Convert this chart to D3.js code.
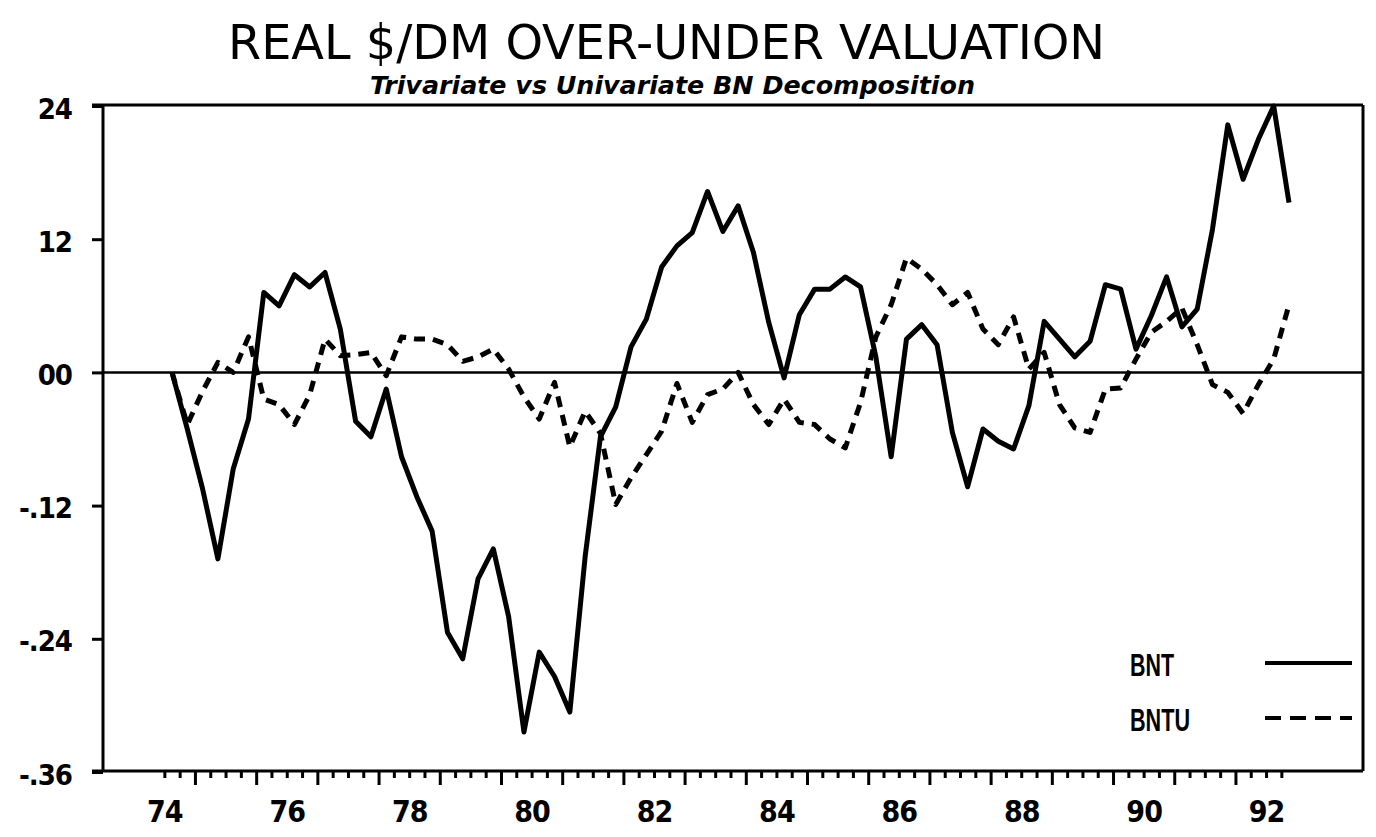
<!DOCTYPE html>
<html>
<head>
<meta charset="utf-8">
<script src="https://cdn.jsdelivr.net/npm/d3@7/dist/d3.min.js"></script>
<style>
    body { margin: 0; background: #fff; }
    svg { display: block; }
</style>
</head>
<body>
<div id="chart"></div>
<script>
// quarterly, 1974Q1 .. 1992Q2
var yearLabels = ["74", "76", "78", "80", "82", "84", "86", "88", "90", "92"];

var bnt = [
    0.000, -0.051, -0.105, -0.168, -0.087, -0.042, 0.072, 0.060,
    0.088, 0.077, 0.090, 0.039, -0.044, -0.058, -0.015, -0.076,
    -0.112, -0.143, -0.234, -0.258, -0.186, -0.159, -0.220, -0.324,
    -0.252, -0.274, -0.306, -0.166, -0.058, -0.031, 0.023, 0.048,
    0.095, 0.114, 0.126, 0.163, 0.127, 0.150, 0.108, 0.045,
    -0.005, 0.052, 0.075, 0.075, 0.086, 0.077, 0.014, -0.076,
    0.030, 0.043, 0.025, -0.054, -0.103, -0.051, -0.062, -0.069,
    -0.030, 0.046, 0.030, 0.014, 0.028, 0.079, 0.075, 0.021,
    0.051, 0.086, 0.041, 0.057, 0.129, 0.223, 0.174, 0.210,
    0.240, 0.153
];

var bntu = [
    0.000, -0.047, -0.017, 0.009, 0.000, 0.032, -0.024, -0.029,
    -0.047, -0.020, 0.030, 0.015, 0.016, 0.018, -0.003, 0.032,
    0.030, 0.030, 0.025, 0.010, 0.014, 0.021, 0.003, -0.022,
    -0.042, -0.009, -0.067, -0.035, -0.055, -0.119, -0.095, -0.074,
    -0.053, -0.010, -0.045, -0.020, -0.015, 0.000, -0.029, -0.047,
    -0.024, -0.045, -0.047, -0.060, -0.068, -0.027, 0.032, 0.061,
    0.103, 0.093, 0.079, 0.061, 0.072, 0.039, 0.025, 0.050,
    0.003, 0.018, -0.029, -0.050, -0.054, -0.015, -0.014, 0.012,
    0.036, 0.046, 0.058, 0.025, -0.011, -0.018, -0.037, -0.011,
    0.012, 0.061
];

var yTicks = [0.24, 0.12, 0, -0.12, -0.24, -0.36];
var yTickLabels = ["24", "12", "00", "-.12", "-.24", "-.36"];
var seriesNames = ["BNT", "BNTU"];

var title = "REAL $/DM OVER-UNDER VALUATION";
var subtitle = "Trivariate vs Univariate BN Decomposition";

function drawChart()
{
    var svg = d3.select("#chart")
        .append("svg")
        .attr("width", 1376)
        .attr("height", 837);

    var left = 103, right = 1363, top = 105, bottom = 771;

    var x = d3.scaleLinear()
        .domain([0, bnt.length - 1])
        .range([172, 1289]);

    var y = d3.scaleLinear()
        .domain([-0.36, 0.24])
        .range([bottom + 1, top + 1]);

    // titles
    svg.append("text")
        .attr("x", 228)
        .attr("y", 59)
        .attr("textLength", 877)
        .attr("lengthAdjust", "spacingAndGlyphs")
        .style("font-family", "'DejaVu Sans Condensed', 'DejaVu Sans', sans-serif")
        .style("font-size", "48px")
        .style("fill", "#000")
        .text(title);

    svg.append("text")
        .attr("x", 370)
        .attr("y", 94)
        .attr("textLength", 605)
        .attr("lengthAdjust", "spacingAndGlyphs")
        .style("font-family", "'DejaVu Sans Condensed', 'DejaVu Sans', sans-serif")
        .style("font-size", "24px")
        .style("font-weight", "bold")
        .style("font-style", "italic")
        .style("fill", "#000")
        .text(subtitle);

    // y axis
    var yAxis = d3.axisLeft(y)
        .tickValues(yTicks)
        .tickSize(11)
        .tickPadding(20)
        .tickFormat(function(d, i){
            return yTickLabels[i];
        });

    var gy = svg.append("g")
        .attr("transform", "translate(" + left + ",0)")
        .call(yAxis);
    gy.select(".domain").remove();
    gy.selectAll("line")
        .style("stroke", "#000")
        .style("stroke-width", 3);
    gy.selectAll("text")
        .attr("dy", "0.42em")
        .style("font-family", "'DejaVu Sans Condensed', 'DejaVu Sans', sans-serif")
        .style("font-weight", "bold")
        .style("font-size", "29px")
        .style("letter-spacing", "-1px")
        .style("fill", "#000");

    // x axis: quarter ticks on the boundaries, longer ones mid-year
    var tickPos = d3.range(0, bnt.length).map(function(k){ return k - 0.5; });
    var minorPos = tickPos.filter(function(d, k){ return k % 4 != 2; });
    var majorPos = tickPos.filter(function(d, k){ return k % 4 == 2; });

    var gMinor = svg.append("g")
        .attr("transform", "translate(0," + bottom + ")")
        .call(d3.axisBottom(x).tickValues(minorPos).tickSize(7).tickFormat(""));
    var gMajor = svg.append("g")
        .attr("transform", "translate(0," + bottom + ")")
        .call(d3.axisBottom(x).tickValues(majorPos).tickSize(14).tickFormat(""));
    gMinor.select(".domain").remove();
    gMajor.select(".domain").remove();
    svg.selectAll(".tick line")
        .style("stroke", "#000")
        .style("stroke-width", 3);

    var labelPos = yearLabels.map(function(d, i){ return i * 8 - 0.5; });
    var gLab = svg.append("g")
        .attr("transform", "translate(0," + bottom + ")")
        .call(d3.axisBottom(x)
            .tickValues(labelPos)
            .tickSize(0)
            .tickPadding(30)
            .tickFormat(function(d, i){ return yearLabels[i]; }));
    gLab.select(".domain").remove();
    gLab.selectAll("text")
        .style("font-family", "'DejaVu Sans Condensed', 'DejaVu Sans', sans-serif")
        .style("font-weight", "bold")
        .style("font-size", "30px")
        .style("letter-spacing", "-1px")
        .style("fill", "#000");

    // frame
    var frame = [
        [92, top, right, top],
        [right, top, right, bottom],
        [92, bottom, right, bottom],
        [left, top, left, bottom]
    ];
    svg.selectAll("line.frame")
        .data(frame)
        .enter()
        .append("line")
        .attr("class", "frame")
        .attr("x1", function(d){ return d[0]; })
        .attr("y1", function(d){ return d[1]; })
        .attr("x2", function(d){ return d[2]; })
        .attr("y2", function(d){ return d[3]; })
        .style("stroke", "#000")
        .style("stroke-width", 3);

    // zero line
    svg.append("line")
        .attr("x1", left)
        .attr("x2", right)
        .attr("y1", y(0))
        .attr("y2", y(0))
        .style("stroke", "#000")
        .style("stroke-width", 2.5);

    var line = d3.line()
        .x(function(d, i){ return x(i); })
        .y(function(d){ return y(d); });

    svg.append("path")
        .datum(bnt)
        .attr("d", line)
        .style("fill", "none")
        .style("stroke", "#000")
        .style("stroke-width", 5)
        .style("stroke-linejoin", "round");

    svg.append("path")
        .datum(bntu)
        .attr("d", line)
        .style("fill", "none")
        .style("stroke", "#000")
        .style("stroke-width", 5)
        .style("stroke-dasharray", "11,8")
        .style("stroke-linejoin", "round");

    // legend
    var legend = svg.selectAll("g.legend")
        .data(seriesNames)
        .enter()
        .append("g")
        .attr("class", "legend")
        .attr("transform", function(d, i){
            return "translate(0," + (i * 55) + ")";
        });

    legend.append("text")
        .attr("x", 1130)
        .attr("y", 676)
        .attr("textLength", function(d){ return d.length == 3 ? 44 : 60; })
        .attr("lengthAdjust", "spacingAndGlyphs")
        .style("font-family", "'Liberation Sans', Arial, sans-serif")
        .style("font-weight", "bold")
        .style("font-size", "31px")
        .style("fill", "#000")
        .text(function(d){ return d; });

    legend.append("line")
        .attr("x1", 1265)
        .attr("x2", 1352)
        .attr("y1", 663)
        .attr("y2", 663)
        .style("stroke", "#000")
        .style("stroke-width", 4)
        .style("stroke-dasharray", function(d, i){
            return i == 0 ? null : "16,9";
        });
}

drawChart();
</script>
</body>
</html>
